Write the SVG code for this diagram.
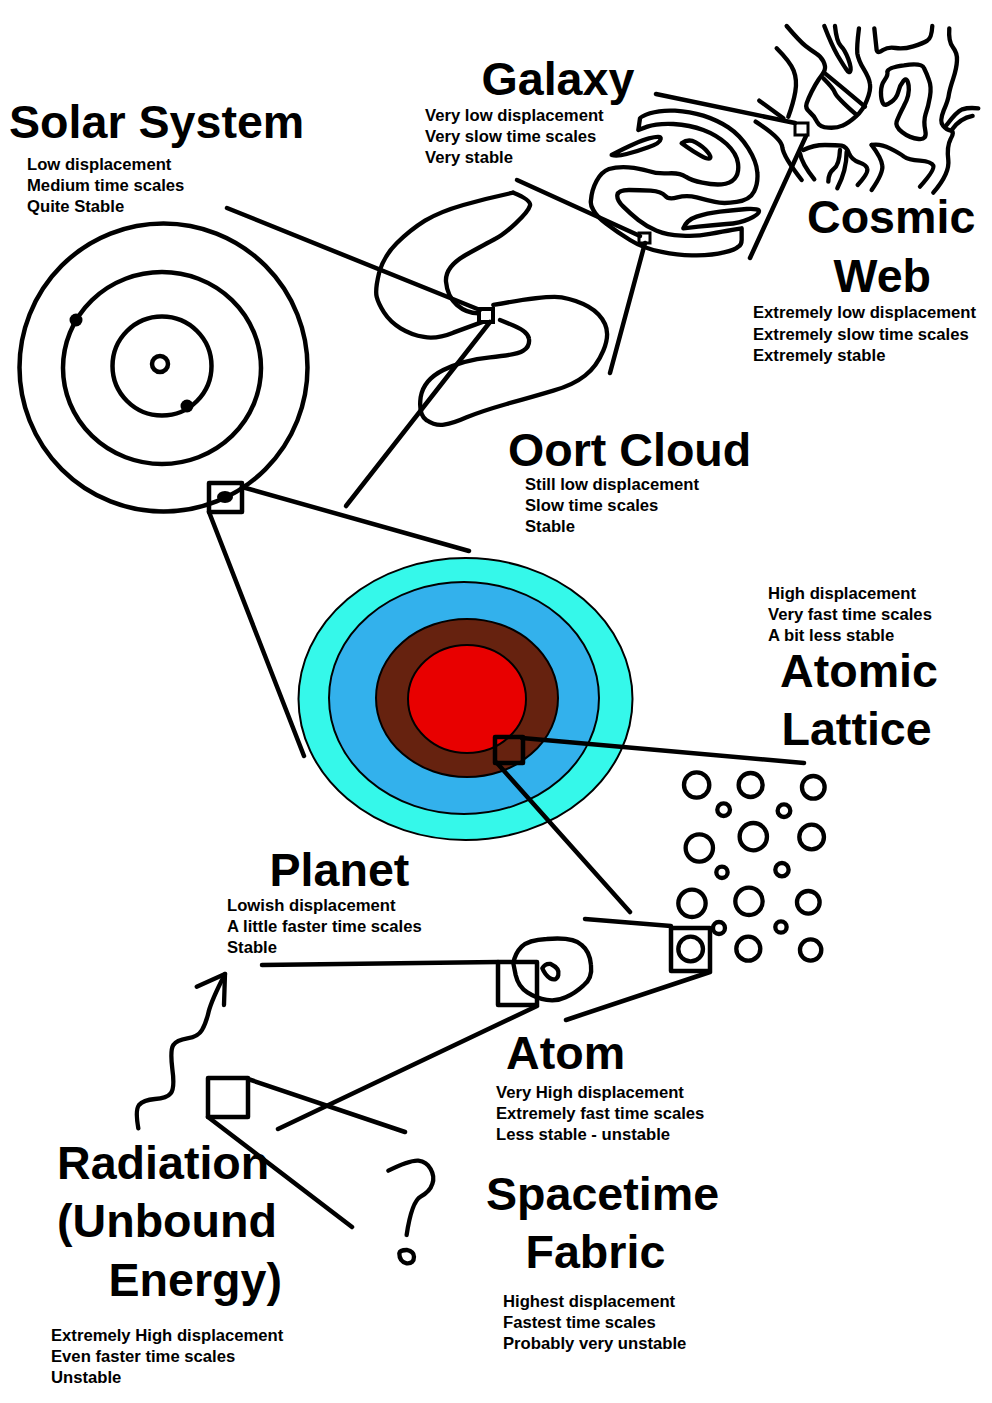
<svg xmlns="http://www.w3.org/2000/svg" width="992" height="1403" viewBox="0 0 992 1403">
<style>
.s{fill:none;stroke:#000;stroke-width:4.500;stroke-linecap:round;stroke-linejoin:round}
.z{fill:none;stroke:#000;stroke-width:13;stroke-linecap:round;stroke-linejoin:round}
.e{stroke:#000;stroke-width:2}
text{font-family:"Liberation Sans",Arial,sans-serif;font-weight:700;fill:#000}
.t{font-size:46.600px}
.d{font-size:16.670px}
</style>
<rect width="992" height="1403" fill="#fff"/>
<g id="cosmic-web">
<g transform="translate(580 10) scale(.3333)" class="z">
<path d="M620 48Q660 95 677 108Q695 122 708 130Q722 138 730 154Q738 170 734 180Q730 190 717 207Q705 225 695 245Q685 265 680 280Q675 295 689 306Q703 318 711 335Q720 352 745 353Q770 355 787 347Q805 340 827 320Q850 300 861 270Q873 240 870 222Q868 205 851 177Q835 150 832 130Q830 110 837 55"/>
<path d="M730 205Q760 235 765 248Q770 262 830 315"/>
<path d="M735 190Q790 235 855 290"/>
<path d="M733 48Q755 105 772 135Q790 165 799 178Q808 192 811 183Q815 175 805 147Q795 120 782 107Q770 95 765 48"/>
<path d="M590 115Q630 155 641 182Q652 210 646 245Q640 280 625 320"/>
<path d="M883 55L890 120Q893 132 909 120Q925 110 947 114Q970 118 1000 109Q1030 100 1042 92Q1055 85 1057 48"/>
<path d="M1108 55Q1105 95 1119 112Q1133 130 1131 152Q1130 175 1120 205Q1110 235 1107 252Q1105 270 1091 302Q1078 335 1089 347Q1100 360 1112 362Q1125 365 1112 387Q1100 410 1105 450Q1110 490 1060 548"/>
<path d="M1100 345Q1130 305 1147 298Q1165 292 1195 295"/>
<path d="M1115 360Q1140 325 1178 318"/>
<path d="M922 185Q925 172 972 166Q1025 158 1032 174Q1040 190 1047 210Q1055 230 1050 260Q1045 290 1037 312Q1030 335 1036 362Q1042 390 1016 387Q990 385 967 367Q945 350 950 335Q955 320 972 287Q990 255 986 227Q982 200 971 212Q960 225 955 245Q950 265 932 277Q915 290 909 280Q903 270 903 247Q903 225 914 210Q925 195 922 185Z"/>
<path d="M538 272L610 325"/>
<path d="M527 335Q605 385 607 412Q610 440 665 510"/>
<path d="M670 420Q700 405 735 405Q770 405 785 407Q800 410 807 430Q815 450 837 457Q860 465 862 477Q865 490 833 525"/>
<path d="M780 420Q778 465 761 477Q745 490 745 515"/>
<path d="M800 425Q800 480 772 535"/>
<path d="M660 430Q665 460 703 508"/>
<path d="M875 405Q900 400 930 415Q960 430 972 440Q985 450 1020 452Q1055 455 1060 467Q1065 480 1020 530"/>
<path d="M875 405Q905 445 907 467Q910 490 875 540"/>
</g>
<rect x="795" y="123" width="13" height="12" fill="#fff" stroke="#000" stroke-width="3"/>
<text class="t" x="807" y="233">Cosmic</text><text class="t" x="833.500" y="292">Web</text>
<text class="d" x="753" y="318">Extremely low displacement</text>
<text class="d" x="753" y="340">Extremely slow time scales</text>
<text class="d" x="753" y="361">Extremely stable</text>
</g>
<g id="galaxy">
<g transform="translate(580 10) scale(.3333)" class="z">
<path d="M33 570Q35 540 50 512Q65 485 87 477Q110 470 145 472Q180 475 205 483Q230 492 265 490Q300 488 317 500Q335 512 367 518Q400 525 425 523Q450 522 464 506Q478 490 474 460Q470 430 440 402Q410 375 370 360Q330 345 280 342Q230 340 202 350L175 360L180 325Q182 320 210 310Q240 300 285 302Q330 305 370 317Q410 330 445 352Q480 375 505 415Q530 455 532 487Q535 520 522 545Q510 570 470 576Q430 582 405 576Q380 570 350 562Q320 555 292 562Q265 570 255 557Q245 545 212 542Q180 540 147 540Q115 540 112 555Q110 570 130 590Q150 610 175 630Q200 650 230 662Q260 675 305 677Q350 680 390 672Q430 665 457 660L485 655L485 690Q485 705 475 710Q465 720 432 727Q400 735 350 736Q300 738 245 726Q190 715 150 690Q110 665 80 642Q50 620 40 600Q30 585 33 570Z"/>
<path d="M95 435Q170 395 207 385Q245 375 242 387Q240 400 205 412Q170 425 140 432Q110 440 95 435Z"/>
<path d="M305 400Q325 385 347 397Q370 410 382 425Q395 440 390 445Q385 450 362 437Q340 425 322 412Z"/>
<path d="M310 655Q320 630 350 620Q380 610 420 605Q460 600 500 597Q540 595 537 605Q535 615 507 627Q480 640 440 642Q400 645 355 650Z"/>
</g>
<rect x="639" y="233" width="11" height="10" fill="#fff" stroke="#000" stroke-width="3"/>
<text class="t" x="481.500" y="95">Galaxy</text>
<text class="d" x="425" y="121">Very low displacement</text>
<text class="d" x="425" y="142">Very slow time scales</text>
<text class="d" x="425" y="163">Very stable</text>
</g>
<g id="oort-cloud">
<g transform="translate(360 180) scale(.3333)" class="z">
<path d="M460 38Q515 60 510 77Q505 95 467 130Q430 165 405 177Q380 190 317 225Q255 260 258 305Q262 350 291 375Q320 400 355 400"/>
<path d="M370 425L280 458Q230 478 192 471Q155 465 122 445Q90 425 72 397Q55 370 50 350Q45 330 57 280Q70 230 110 190Q150 150 195 122Q240 95 310 75Q380 55 460 38"/>
<path d="M400 375Q560 345 605 352Q650 360 685 380Q720 400 735 432Q750 465 730 512Q710 560 675 587Q640 615 580 632Q520 650 440 672Q360 695 320 712Q280 730 252 734Q225 738 200 721Q175 705 182 652Q190 600 250 570Q310 540 390 532Q470 525 490 512Q510 500 507 477Q505 455 462 437L420 420"/>
</g>
<rect x="479" y="309" width="14" height="13" fill="#fff" stroke="#000" stroke-width="4"/>
<text class="t" x="508" y="466">Oort Cloud</text>
<text class="d" x="525" y="490">Still low displacement</text>
<text class="d" x="525" y="511">Slow time scales</text>
<text class="d" x="525" y="532">Stable</text>
</g>
<g id="solar-system">
<circle class="s" cx="163.500" cy="367.500" r="144"/>
<ellipse class="s" cx="162" cy="368" rx="99" ry="96"/>
<circle class="s" cx="162" cy="366" r="49.500"/>
<circle class="s" cx="160" cy="364" r="8"/>
<circle cx="76" cy="320" r="6.500"/><circle cx="187" cy="406" r="6.500"/><ellipse cx="225" cy="497" rx="8" ry="6"/>
<rect class="s" x="209" y="483" width="33" height="29"/>
<text class="t" x="9" y="138">Solar System</text>
<text class="d" x="27" y="170">Low displacement</text>
<text class="d" x="27" y="191">Medium time scales</text>
<text class="d" x="27" y="212">Quite Stable</text>
</g>
<g id="planet">
<ellipse class="e" cx="465.500" cy="699" rx="167" ry="141" fill="#35f8ea"/>
<ellipse class="e" cx="464" cy="698" rx="135" ry="116" fill="#33b1ec"/>
<ellipse class="e" cx="467" cy="698" rx="91" ry="79" fill="#66220f"/>
<ellipse class="e" cx="467" cy="699" rx="59" ry="54" fill="#e80000"/>
<rect class="s" x="495" y="737" width="28" height="26"/>
<text class="t" x="269.500" y="886">Planet</text>
<text class="d" x="227" y="911">Lowish displacement</text>
<text class="d" x="227" y="932">A little faster time scales</text>
<text class="d" x="227" y="953">Stable</text>
</g>
<g id="atomic-lattice">
<g transform="translate(480 760) scale(.3333)" class="z">
<circle cx="650" cy="75" r="38"/><circle cx="812" cy="75" r="36"/><circle cx="1000" cy="82" r="34"/><circle cx="731" cy="149" r="19"/><circle cx="912" cy="152" r="19"/><circle cx="658" cy="264" r="41"/><circle cx="820" cy="230" r="41"/><circle cx="995" cy="231" r="37"/><circle cx="726" cy="337" r="17"/><circle cx="906" cy="329" r="20"/><circle cx="636" cy="430" r="41"/><circle cx="807" cy="424" r="41"/><circle cx="985" cy="427" r="34"/><circle cx="717" cy="504" r="18"/><circle cx="903" cy="501" r="17"/><circle cx="632" cy="567" r="37"/><circle cx="805" cy="566" r="36"/><circle cx="992" cy="570" r="32"/>
</g>
<rect class="s" x="671" y="928" width="39" height="43"/>
<text class="t" x="780" y="687">Atomic</text><text class="t" x="781.500" y="745">Lattice</text>
<text class="d" x="768" y="599">High displacement</text>
<text class="d" x="768" y="620">Very fast time scales</text>
<text class="d" x="768" y="641">A bit less stable</text>
</g>
<g id="atom">
<g transform="translate(480 760) scale(.3333)" class="z">
<path d="M100 610Q105 580 125 560Q145 540 200 537Q280 530 305 555Q330 575 333 615Q338 655 310 677Q285 700 257 712Q230 725 200 720Q170 715 142 697Q115 680 107 645Z"/>
<path d="M187 625Q195 610 212 612Q240 625 235 645Q230 665 210 655Q195 645 187 625Z"/>
</g>
<rect class="s" x="498" y="962" width="39" height="43"/>
<text class="t" x="506" y="1069">Atom</text>
<text class="d" x="496" y="1098">Very High displacement</text>
<text class="d" x="496" y="1119">Extremely fast time scales</text>
<text class="d" x="496" y="1140">Less stable - unstable</text>
</g>
<g id="radiation">
<g transform="translate(120 960) scale(.3333)" class="z">
<path d="M55 505Q45 450 57 435Q70 420 105 417Q140 415 152 400Q165 385 157 327Q150 270 160 255Q170 240 202 235Q235 230 246 210Q258 190 266 155Q275 120 315 42"/>
<path d="M230 80L315 42L312 135"/>
</g>
<rect class="s" x="208" y="1078" width="40" height="39"/>
<text class="t" x="57" y="1179">Radiation</text><text class="t" x="57" y="1237">(Unbound</text><text class="t" x="108.500" y="1296">Energy)</text>
<text class="d" x="51" y="1341">Extremely High displacement</text>
<text class="d" x="51" y="1362">Even faster time scales</text>
<text class="d" x="51" y="1383">Unstable</text>
</g>
<g id="spacetime-fabric">
<g transform="translate(120 960) scale(.3333)" class="z">
<path d="M805 632Q870 600 895 602Q920 605 932 627Q945 650 937 672Q930 695 902 710Q875 725 860 825"/>
<path d="M838 880Q840 870 860 870Q882 875 882 890Q882 912 860 910Q838 905 838 880Z"/>
</g>
<text class="t" x="486" y="1210">Spacetime</text><text class="t" x="525.500" y="1268">Fabric</text>
<text class="d" x="503" y="1307">Highest displacement</text>
<text class="d" x="503" y="1328">Fastest time scales</text>
<text class="d" x="503" y="1349">Probably very unstable</text>
</g>
<g id="connectors" class="s">
<path d="M656 94L795 123"/><path d="M806 136L750 258"/>
<path d="M517 180L640 236"/><path d="M645 243L610 373"/>
<path d="M227 208L480 310"/><path d="M490 322L346 506"/>
<path d="M242 487L469 551"/><path d="M209 512L304 756"/>
<path d="M522 738L804 763"/><path d="M497 763L630 912"/>
<path d="M585 919L671 926"/><path d="M710 972L566 1020"/>
<path d="M262 965L498 962"/><path d="M537 1006L278 1129"/>
<path d="M248 1079L405 1132"/><path d="M208 1117L352 1227"/>
</g>
</svg>
